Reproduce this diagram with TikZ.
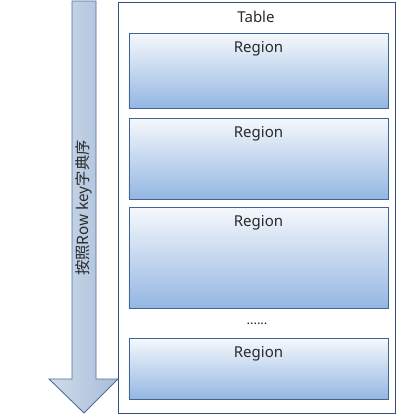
\documentclass[tikz,border=0pt]{standalone}
\usepackage{fontspec}
\setmainfont{Noto Sans}
\newfontfamily\cjk{Noto Sans CJK SC}
\definecolor{regtop}{HTML}{F5F8FC}
\definecolor{regbot}{HTML}{93B6E2}
\definecolor{regedge}{HTML}{3F6597}
\definecolor{tabedge}{HTML}{2F4F7F}
\definecolor{arrl}{HTML}{CFDBEA}
\definecolor{arrr}{HTML}{A8BDD9}
\definecolor{arredge}{HTML}{4E6F9C}
\definecolor{txt}{HTML}{2A2A2A}
\begin{document}
\begin{tikzpicture}[x=1bp,y=-1bp,
  regionbox/.style={draw=regedge, line width=0.9bp, top color=regtop, bottom color=regbot,
    rectangle, minimum width=259bp, anchor=north, inner sep=0pt},
  lbl/.style={font=\fontsize{15bp}{17bp}\selectfont, text=txt}]
\useasboundingbox (0,0) rectangle (420,420);
% table
\node[draw=tabedge, line width=0.9bp, fill=white, minimum width=277bp, minimum height=411bp,
  anchor=north west, inner sep=0pt] (table) at (118,2) {};
\node[lbl] (tablelbl) at (256,17) {Table};
% regions
\node[regionbox, minimum height=75bp] (r1) at (258.5,33) {};
\node[regionbox, minimum height=81bp] (r2) at (258.5,118) {};
\node[regionbox, minimum height=101bp] (r3) at (258.5,207) {};
\node[regionbox, minimum height=61bp] (r4) at (258.5,338) {};
\node[lbl] (l1) at (258.5,49) {Region};
\node[lbl] (l2) at (258.5,134) {Region};
\node[lbl] (l3) at (258.5,223) {Region};
\node[lbl] (l4) at (258.5,354) {Region};
\node[lbl, font=\fontsize{13bp}{14bp}\selectfont] (dots) at (257,324) {......};
% arrow
\draw[draw=arredge, line width=0.9bp, left color=arrl, right color=arrr]
  (72,1) -- (96,1) -- (96,379) -- (118,379) -- (84,413) -- (49,379) -- (72,379) -- cycle;
\node[lbl, rotate=90, font=\cjk\fontsize{15.3bp}{17bp}\selectfont] (arrlbl) at (84,208) {按照Row key字典序};
\end{tikzpicture}
\end{document}
